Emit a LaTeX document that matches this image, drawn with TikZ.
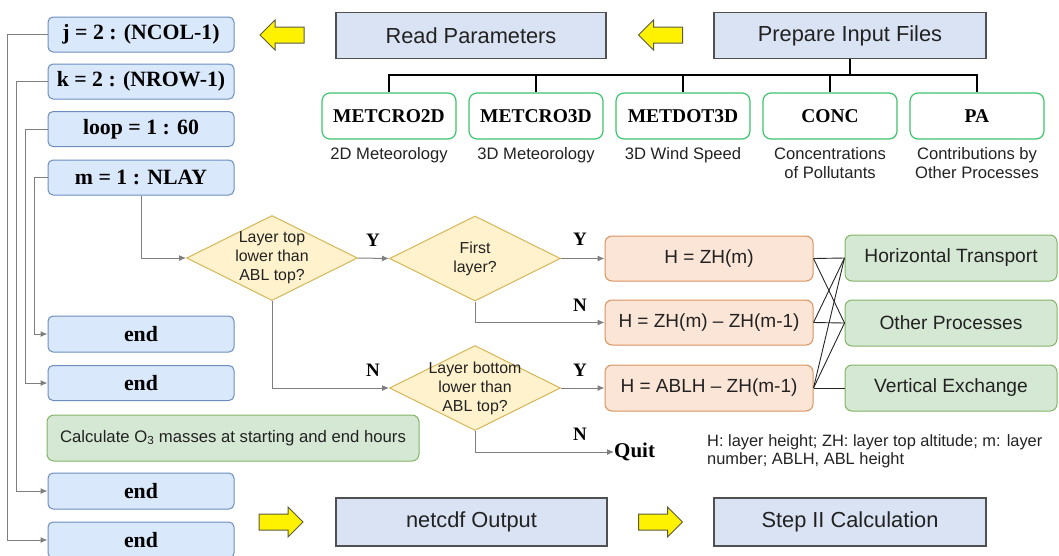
\documentclass[tikz,border=0pt]{standalone}
\usepackage{fontspec}
\setmainfont{Liberation Serif}
\setsansfont{Liberation Sans}
\usetikzlibrary{shapes.geometric,arrows.meta}
\definecolor{loopfill}{HTML}{DAE8FC}
\definecolor{loopdraw}{HTML}{6C8EBF}
\definecolor{dfill}{HTML}{FFF2CC}
\definecolor{ddraw}{HTML}{D6B656}
\definecolor{hfill}{HTML}{FBE5D6}
\definecolor{hdraw}{HTML}{D8925E}
\definecolor{gfill}{HTML}{D5E8D4}
\definecolor{gdraw}{HTML}{82B366}
\definecolor{indraw}{HTML}{3DC46C}
\definecolor{sfill}{HTML}{DAE3F3}
\definecolor{sdraw}{HTML}{505050}
\definecolor{txt}{HTML}{222222}
\definecolor{lgrey}{HTML}{7F7F7F}
\definecolor{adraw}{HTML}{5A5A40}
\tikzset{
  loopbox/.style={rounded corners=5pt, draw=loopdraw, fill=loopfill, line width=1pt,
    minimum width=186pt, minimum height=35pt, inner sep=0pt,
    font=\fontsize{21.8}{24}\selectfont\bfseries},
  diam/.style={diamond, draw=ddraw, fill=dfill, line width=1pt,
    minimum width=171pt, minimum height=85pt, inner sep=0pt},
  dtext/.style={align=center, text=txt, font=\sffamily\fontsize{15.9}{19}\selectfont, inner sep=0pt},
  hbox/.style={rounded corners=7pt, draw=hdraw, fill=hfill, line width=1pt,
    minimum width=208pt, minimum height=45pt, inner sep=0pt, text=txt,
    font=\sffamily\fontsize{19}{22}\selectfont},
  gbox/.style={rounded corners=7pt, draw=gdraw, fill=gfill, line width=1pt,
    minimum width=212pt, minimum height=46pt, inner sep=0pt, text=txt,
    font=\sffamily\fontsize{19.2}{22}\selectfont},
  infile/.style={rounded corners=8pt, draw=indraw, fill=white, line width=1.2pt,
    minimum width=134pt, minimum height=46pt, inner sep=0pt,
    font=\fontsize{19.5}{22}\selectfont\bfseries},
  caption/.style={align=center, text=txt, font=\sffamily\fontsize{16.6}{19.5}\selectfont, inner sep=0pt},
  stepbox/.style={draw=sdraw, fill=sfill, line width=1.2pt,
    minimum width=270pt, minimum height=46pt, inner sep=0pt, text=txt,
    font=\sffamily\fontsize{21.8}{24}\selectfont},
  yn/.style={font=\fontsize{19}{22}\selectfont\bfseries, inner sep=0pt},
  flow/.style={draw=lgrey, line width=1pt, -{Latex[length=7pt,width=6pt]}},
  cross/.style={draw=black!85, line width=0.9pt},
  tree/.style={draw=black, line width=2.8pt},
  yarrow/.pic={\draw[fill=yellow, draw=adraw, line width=1pt, line join=miter]
    (-22,-8) -- (7,-8) -- (7,-15) -- (22,0) -- (7,15) -- (7,8) -- (-22,8) -- cycle;}
}
\begin{document}
\begin{tikzpicture}[x=1pt,y=-1pt]
\useasboundingbox (0,0) rectangle (1059,555);
\clip (0,0) rectangle (1059,555);
% loop boxes
\node[loopbox] (jbox) at (141,34.5) {j = 2 : (NCOL-1)};
\node[loopbox] (kbox) at (141,81.5) {k = 2 : (NROW-1)};
\node[loopbox] (lbox) at (141,129) {loop = 1 : 60};
\node[loopbox] (mbox) at (141,177.5) {m = 1 : NLAY};
\node[loopbox, minimum height=36pt] (end1) at (141,334) {end};
\node[loopbox] (end2) at (141,383) {end};
\node[loopbox, minimum height=36pt] (end3) at (141,491) {end};
\node[loopbox, minimum height=36pt] (end4) at (141,540) {end};
\node[gbox, minimum width=372pt, font=\sffamily\fontsize{16.7}{19}\selectfont] (calc) at (233,438) {Calculate O\textsubscript{3} masses at starting and end hours};
% loop lines
\draw[flow] (jbox.west) -- ++(-40,0) |- (end4.west);
\draw[flow] (kbox.west) -- ++(-31,0) |- (end3.west);
\draw[flow] (lbox.west) -- ++(-22,0) |- (end2.west);
\draw[flow] (mbox.west) -- ++(-13,0) |- (end1.west);
% top row
\node[stepbox] (read) at (471,35.5) {Read Parameters};
\node[stepbox, minimum width=272pt] (prep) at (850,35.5) {Prepare Input Files};
\pic[xscale=-1] at (282,35) {yarrow};
\pic[xscale=-1] at (660.5,35) {yarrow};
% input files
\node[infile] (in1) at (389,116) {METCRO2D};
\node[infile] (in2) at (536,116) {METCRO3D};
\node[infile] (in3) at (683,116) {METDOT3D};
\node[infile] (in4) at (830,116) {CONC};
\node[infile] (in5) at (977,116) {PA};
\node[caption, anchor=north] (c1) at (389,147) {2D Meteorology};
\node[caption, anchor=north] (c2) at (536,147) {3D Meteorology};
\node[caption, anchor=north] (c3) at (683,147) {3D Wind Speed};
\node[caption, anchor=north] (c4) at (830,147) {Concentrations\\of Pollutants};
\node[caption, anchor=north] (c5) at (977,147) {Contributions by\\Other Processes};
\coordinate (tj) at (850,75);
\draw[tree] (prep.south) -- (tj);
\draw[tree, line cap=rect] (in1.north |- tj) -- (in5.north |- tj);
\foreach \n in {in1,in2,in3,in4,in5} \draw[tree] (\n.north |- tj) -- (\n.north);
% diamonds
\node[diam] (d1) at (272,258) {};
\node[dtext] at (d1.center) {Layer top\\lower than\\ABL top?};
\node[diam] (d2) at (475,258.5) {};
\node[dtext] at (d2.center) {First\\layer?};
\node[diam] (d3) at (475,388) {};
\node[dtext] at (d3.center) {Layer bottom\\lower than\\ABL top?};
\draw[flow] (mbox.south) |- (d1.west);
\draw[flow] (d1.east) -- (d2.west);
\draw[flow] (d1.south) |- (d3.west);
\node[yn] at (373,240) {Y};
\node[yn] at (373,370) {N};
% H boxes
\node[hbox] (h1) at (709,258.5) {H = ZH(m)};
\node[hbox] (h2) at (709,322.5) {H = ZH(m) -- ZH(m-1)};
\node[hbox, minimum height=46pt] (h3) at (709,388) {H = ABLH -- ZH(m-1)};
\node[yn, anchor=west, font=\fontsize{21}{24}\selectfont\bfseries] (quit) at (614,452) {Quit};
\draw[flow] (d2.east) -- (h1.west);
\draw[flow] (d2.south) |- (h2.west);
\draw[flow] (d3.east) -- (h3.west);
\draw[flow] (d3.south) |- (quit.west);
\node[yn] at (580,239) {Y};
\node[yn] at (580,305) {N};
\node[yn] at (580,370) {Y};
\node[yn] at (580,434) {N};
% green process boxes
\node[gbox] (ht) at (951,258) {Horizontal Transport};
\node[gbox] (op) at (951,323) {Other Processes};
\node[gbox] (ve) at (951,388) {Vertical Exchange};
\draw[cross] (h1.east) -- (ht.west);
\draw[cross] (h1.east) -- (op.west);
\draw[cross] (h2.east) -- (ht.west);
\draw[cross] (h2.east) -- (op.west);
\draw[cross] (h3.east) -- (ht.west);
\draw[cross] (h3.east) -- (op.west);
\draw[cross] (h3.east) -- (ve.west);
\node[anchor=west, align=left, text=txt, inner sep=0pt, font=\sffamily\fontsize{16.4}{18.5}\selectfont] (legend) at (707,451) {H: layer height; ZH: layer top altitude; m: layer\\number; ABLH, ABL height};
% bottom row
\node[stepbox, minimum width=271pt, minimum height=48pt] (out) at (471.5,522) {netcdf Output};
\node[stepbox, minimum width=272pt, minimum height=48pt] (step2) at (850,522) {Step II Calculation};
\pic at (281,522) {yarrow};
\pic at (660.5,522) {yarrow};
\end{tikzpicture}
\end{document}
